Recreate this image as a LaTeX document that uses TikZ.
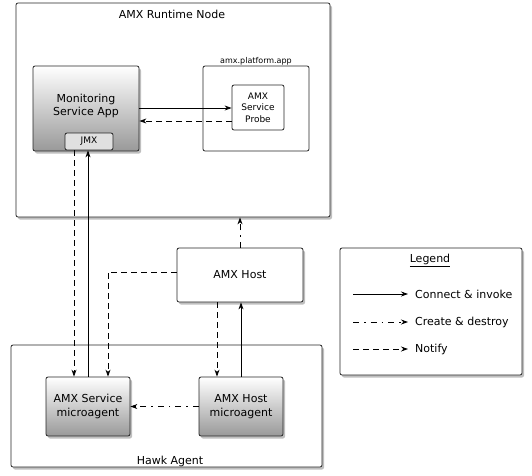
\documentclass[tikz,border=0pt]{standalone}
\usepackage{fontspec}
\setmainfont{DejaVu Sans}
\usetikzlibrary{shadows,arrows.meta}
\begin{document}
\begin{tikzpicture}[x=1pt,y=-1pt,
  font=\fontsize{11}{13.5}\selectfont,
  box/.style={draw=black!85,line width=0.8pt,rounded corners=2pt,fill=white,inner sep=0pt},
  shbox/.style={box,drop shadow={shadow xshift=2pt,shadow yshift=-2.5pt,opacity=0.5}},
  grad/.style={box,top color=white,bottom color=black!40,drop shadow={shadow xshift=2pt,shadow yshift=-2.5pt,opacity=0.5}},
  lbl/.style={inner sep=0pt},
  connect/.style={line width=0.8pt,-{Stealth[length=7pt,width=5pt]}},
  notify/.style={connect,dash pattern=on 6pt off 4pt},
  create/.style={connect,dash pattern=on 6pt off 5pt on 1.5pt off 5pt},
]
\useasboundingbox (0,0) rectangle (532,475);
% containers
\node[shbox,minimum width=314,minimum height=214] (runtime) at (173,110) {};
\node[lbl] (runtimelbl) at (172,14) {AMX Runtime Node};
\node[shbox,minimum width=311,minimum height=122] (hawk) at (166.5,406) {};
\node[lbl] (hawklbl) at (170,461) {Hawk Agent};
\node[box,minimum width=106,minimum height=85] (plat) at (256,108.5) {};
\node[lbl,font=\fontsize{8}{9}\selectfont] (platlbl) at (256,61) {amx.platform.app};
% inner nodes
\node[grad,minimum width=106,minimum height=85] (mon) at (86,108.5) {};
\node[lbl,align=center] (montxt) at (86,106) {Monitoring\\Service App};
\node[box,fill=black!12,minimum width=48,minimum height=17,font=\fontsize{9}{10}\selectfont] (jmx) at (89,141.5) {JMX};
\node[box,minimum width=52,minimum height=45,align=center,font=\fontsize{9}{11.5}\selectfont] (probe) at (258,107.5) {AMX\\Service\\Probe};
\node[shbox,minimum width=126,minimum height=54] (host) at (240,275) {AMX Host};
\node[grad,minimum width=84,minimum height=59,align=center] (sma) at (88,406.5) {AMX Service\\microagent};
\node[grad,minimum width=84,minimum height=59,align=center] (hma) at (241,406.5) {AMX Host\\microagent};
% legend
\node[shbox,minimum width=182,minimum height=127] (legend) at (431,311.5) {};
\node[lbl] (legtitle) at (430,260) {\underline{Legend}};
\coordinate (l1a) at (353,294); \coordinate (l1b) at (408,294);
\coordinate (l2a) at (353,322); \coordinate (l2b) at (408,322);
\coordinate (l3a) at (353,349); \coordinate (l3b) at (408,349);
\draw[connect] (l1a) -- (l1b);
\draw[create] (l2a) -- (l2b);
\draw[notify] (l3a) -- (l3b);
\node[lbl,anchor=west] (leg1) at (415,294) {Connect \& invoke};
\node[lbl,anchor=west] (leg2) at (415,322) {Create \& destroy};
\node[lbl,anchor=west] (leg3) at (415,349) {Notify};
% connectors
\draw[connect] ([yshift=0.5]mon.east) -- ([yshift=0.5]mon.east -| probe.west);
\draw[notify] ([yshift=-13.5]probe.west) -- ([yshift=-13.5]probe.west -| mon.east);
\draw[notify] ([xshift=-15]jmx.south) -- ([xshift=-15]jmx.south |- sma.north);
\draw[connect] (sma.north) -- (sma.north |- jmx.south);
\draw[notify] ([yshift=3]host.west) -| ([xshift=20]sma.north);
\draw[create] (host.north) -- (host.north |- runtime.south);
\draw[notify] ([xshift=-23]host.south) -- ([xshift=-23]host.south |- hma.north);
\draw[connect] (hma.north) -- (hma.north |- host.south);
\draw[create] (hma.west) -- (sma.east);
\end{tikzpicture}
\end{document}
